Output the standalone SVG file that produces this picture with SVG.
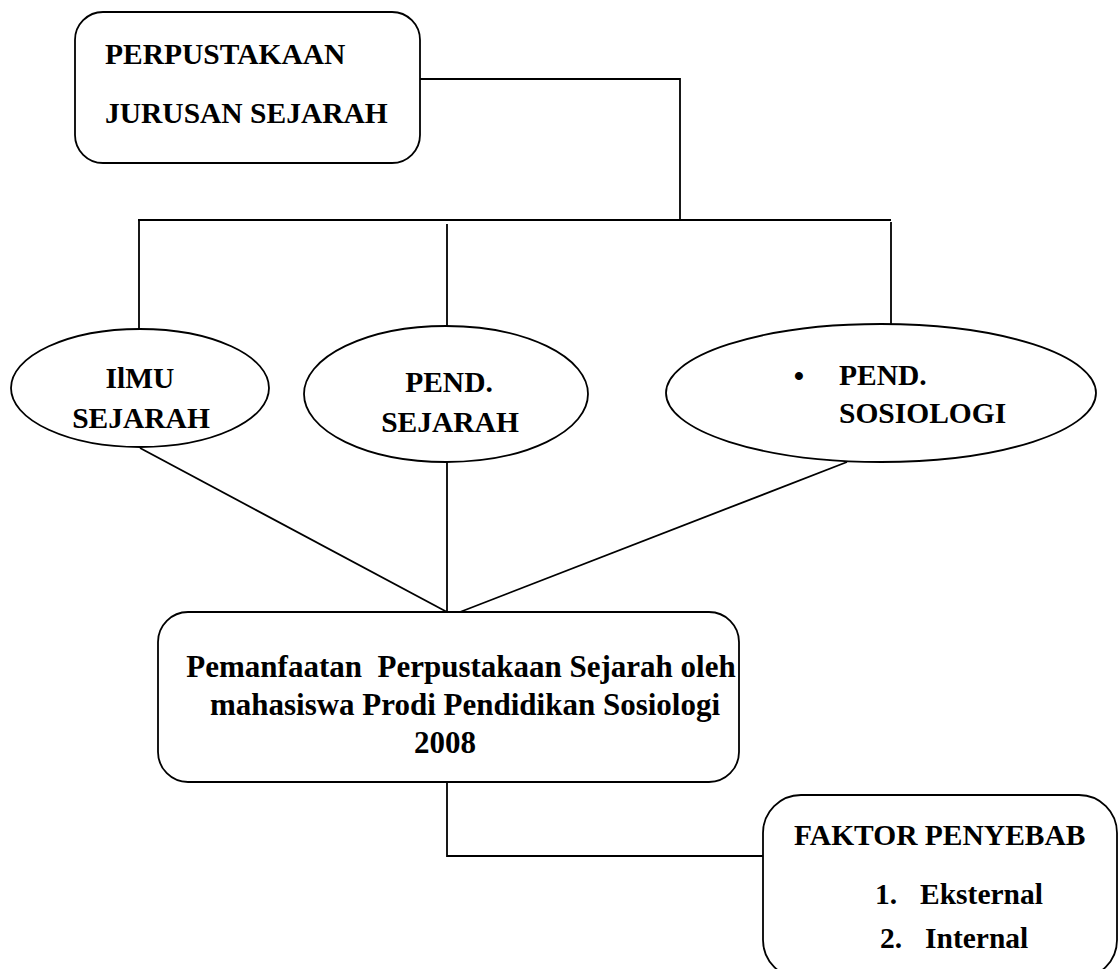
<svg xmlns="http://www.w3.org/2000/svg" width="1119" height="969" viewBox="0 0 1119 969">
<style>
.shape{fill:#fff;stroke:#000;stroke-width:1.8}
.conn{fill:none;stroke:#000;stroke-width:1.8}
text{font-family:"Liberation Serif","Times New Roman",serif;font-weight:bold;font-size:29.5px;fill:#000}
.c{text-anchor:middle}
.big{font-size:31px}
</style>
<rect width="1119" height="969" fill="#fff"/>
<g id="connectors">
<polyline class="conn" points="420,79 680,79 680,220"/>
<line class="conn" x1="138" y1="220" x2="891" y2="220"/>
<line class="conn" x1="139" y1="220" x2="139" y2="330"/>
<line class="conn" x1="447" y1="224" x2="447" y2="329"/>
<line class="conn" x1="891" y1="222" x2="891" y2="330"/>
<line class="conn" x1="140" y1="448" x2="447" y2="612"/>
<line class="conn" x1="447" y1="462" x2="447" y2="612"/>
<line class="conn" x1="847" y1="462" x2="460" y2="612"/>
<polyline class="conn" points="447,782 447,856 763,856"/>
</g>
<g id="node-perpustakaan">
<rect class="shape" x="75" y="12" width="345" height="151" rx="28"/>
<text x="105" y="64">PERPUSTAKAAN</text>
<text x="105" y="123">JURUSAN SEJARAH</text>
</g>
<g id="node-ilmu-sejarah">
<ellipse class="shape" cx="140" cy="388" rx="129" ry="59"/>
<text class="c" x="140" y="388">IlMU</text>
<text class="c" x="141" y="428">SEJARAH</text>
</g>
<g id="node-pend-sejarah">
<ellipse class="shape" cx="446" cy="394" rx="142" ry="68"/>
<text class="c" x="449" y="392">PEND.</text>
<text class="c" x="450" y="432">SEJARAH</text>
</g>
<g id="node-pend-sosiologi">
<ellipse class="shape" cx="881" cy="393" rx="215" ry="69"/>
<text class="c" x="799" y="386">•</text>
<text x="839" y="385">PEND.</text>
<text x="839" y="423">SOSIOLOGI</text>
</g>
<g id="node-pemanfaatan">
<rect class="shape" x="158" y="612" width="581" height="170" rx="30"/>
<text class="c big" x="461" y="677" xml:space="preserve">Pemanfaatan  Perpustakaan Sejarah oleh</text>
<text class="c big" x="465" y="715">mahasiswa Prodi Pendidikan Sosiologi</text>
<text class="c big" x="445" y="753">2008</text>
</g>
<g id="node-faktor">
<rect class="shape" x="763" y="795" width="354" height="183" rx="38"/>
<text x="794" y="845">FAKTOR PENYEBAB</text>
<text x="875" y="904">1.</text>
<text x="920" y="904">Eksternal</text>
<text x="880" y="948">2.</text>
<text x="925" y="948">Internal</text>
</g>
</svg>
